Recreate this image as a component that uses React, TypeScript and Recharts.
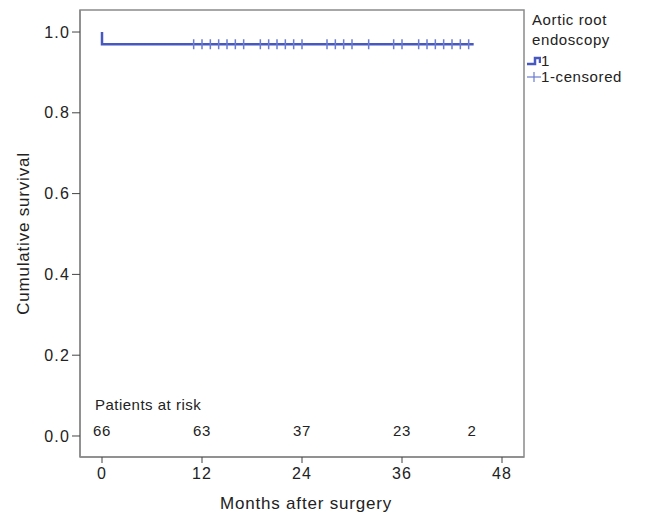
import React from 'react'
import { ComposedChart, Line, Scatter, XAxis, YAxis, ReferenceArea } from 'recharts'

// Kaplan-Meier curve (months, survival)
const curveTimes = [0, 0, 44.6]
const curveSurvival = [1, 0.9697, 0.9697]

// censored observations (months)
const censorTimes = [11, 12, 13, 14, 15, 16, 17, 19, 20, 21, 22, 23, 24, 27, 28, 29, 30, 32, 35, 36, 38, 39, 40, 41, 42, 43, 44]
const censorSurvival = 0.9697

// patients at risk row
const riskTimes = [0, 12, 24, 36, 44.4]
const riskCounts = [66, 63, 37, 23, 2]
const riskTitle = 'Patients at risk'

const xTicks = [0, 12, 24, 36, 48]
const yTicks = [0, 0.2, 0.4, 0.6, 0.8, 1.0]

const xTitle = 'Months after surgery'
const yTitle = 'Cumulative survival'
const legendTitle = ['Aortic root', 'endoscopy']
const legendItems = ['1', '1-censored']

const LINE = '#4759c0'
const CENSOR = '#6a7bd0'
const AXIS = '#8a8a8a'
const TEXT = '#222'
const FONT = '"Liberation Sans", Arial, Helvetica, sans-serif'

const curve = curveTimes.map((t, i) => ({ t, s: curveSurvival[i] }))
const censored = censorTimes.map((t) => ({ t, s: censorSurvival }))
const risk = riskTimes.map((t, i) => ({ t, s: 0.0136, label: String(riskCounts[i]) }))
const riskHeader = [{ t: -0.85, s: 0.079, label: riskTitle }]

const CensorMark = (props: any) => {
  const { cx, cy } = props
  return <line x1={cx} x2={cx} y1={cy - 5} y2={cy + 5} stroke={CENSOR} strokeWidth={1.5} />
}

const CenterText = (props: any) => {
  const { cx, cy, payload } = props
  return (
    <text x={cx} y={cy} textAnchor="middle" dominantBaseline="central" fontSize={15} letterSpacing={0.6} fill={TEXT} fontFamily={FONT}>
      {payload.label}
    </text>
  )
}

const StartText = (props: any) => {
  const { cx, cy, payload } = props
  return (
    <text x={cx} y={cy} textAnchor="start" dominantBaseline="central" fontSize={15} letterSpacing={0.5} fill={TEXT} fontFamily={FONT}>
      {payload.label}
    </text>
  )
}

const XTitle = (props: any) => {
  const { viewBox } = props
  return (
    <text x={viewBox.x + viewBox.width / 2 + 4} y={viewBox.y + 52} textAnchor="middle" fontSize={17} letterSpacing={0.8} fill={TEXT} fontFamily={FONT}>
      {xTitle}
    </text>
  )
}

const YTitle = (props: any) => {
  const { viewBox } = props
  const cx = viewBox.x + 23.5
  const cy = viewBox.y + viewBox.height / 2
  return (
    <text x={cx} y={cy} transform={`rotate(-90, ${cx}, ${cy})`} textAnchor="middle" dominantBaseline="central" fontSize={17} letterSpacing={0.8} fill={TEXT} fontFamily={FONT}>
      {yTitle}
    </text>
  )
}

const KMLegend = () => (
  <div style={{ position: 'absolute', left: 532, top: 10, fontFamily: FONT, fontSize: 15, letterSpacing: 0.6, color: TEXT, lineHeight: '20px' }}>
    {legendTitle.map((l) => (
      <div key={l}>{l}</div>
    ))}
    <div style={{ display: 'flex', alignItems: 'center', lineHeight: '16px', marginLeft: -5, marginTop: 3 }}>
      <svg width={14} height={12}>
        <polyline points="0,9 8,9 8,3 13,3 13,8" fill="none" stroke={LINE} strokeWidth={2.5} />
      </svg>
      {legendItems[0]}
    </div>
    <div style={{ display: 'flex', alignItems: 'center', lineHeight: '16px', marginLeft: -5 }}>
      <svg width={14} height={12}>
        <line x1={0} x2={14} y1={6} y2={6} stroke={CENSOR} strokeWidth={1.2} />
        <line x1={7} x2={7} y1={1} y2={11} stroke={CENSOR} strokeWidth={1.2} />
      </svg>
      {legendItems[1]}
    </div>
  </div>
)

export default function App() {
  const xMin = -2.64
  const xMax = 50.64
  const yMin = -0.052
  const yMax = 1.0545
  return (
    <div style={{ position: 'absolute', left: 0, top: 0, width: 645, height: 517, background: '#fff' }}>
      <ComposedChart width={645} height={517} margin={{ top: 10, right: 121, bottom: 0, left: 0 }}>
        <XAxis
          type="number"
          dataKey="t"
          domain={[xMin, xMax]}
          ticks={xTicks}
          allowDataOverflow
          height={60}
          tickSize={6}
          tickMargin={5}
          axisLine={{ stroke: AXIS, strokeWidth: 1.5 }}
          tickLine={{ stroke: '#444' }}
          tick={{ fontSize: 16, fill: TEXT, fontFamily: FONT, letterSpacing: 1.2 }}
          label={<XTitle />}
        />
        <YAxis
          type="number"
          dataKey="s"
          domain={[yMin, yMax]}
          ticks={yTicks}
          allowDataOverflow
          width={80}
          tickSize={8}
          tickMargin={2}
          tickFormatter={(v) => Number(v).toFixed(1)}
          axisLine={{ stroke: AXIS, strokeWidth: 1.5 }}
          tickLine={{ stroke: '#444' }}
          tick={{ fontSize: 16, fill: TEXT, fontFamily: FONT, letterSpacing: 1.2 }}
          label={<YTitle />}
        />
        <ReferenceArea x1={xMin} x2={xMax} y1={yMin} y2={yMax} fill="none" stroke={AXIS} strokeWidth={1.5} ifOverflow="visible" />
        <Line data={curve} dataKey="s" type="linear" stroke={LINE} strokeWidth={2.5} dot={false} isAnimationActive={false} />
        <Scatter data={censored} dataKey="s" shape={<CensorMark />} isAnimationActive={false} />
        <Scatter data={risk} dataKey="s" shape={<CenterText />} isAnimationActive={false} />
        <Scatter data={riskHeader} dataKey="s" shape={<StartText />} isAnimationActive={false} />
      </ComposedChart>
      <KMLegend />
    </div>
  )
}
